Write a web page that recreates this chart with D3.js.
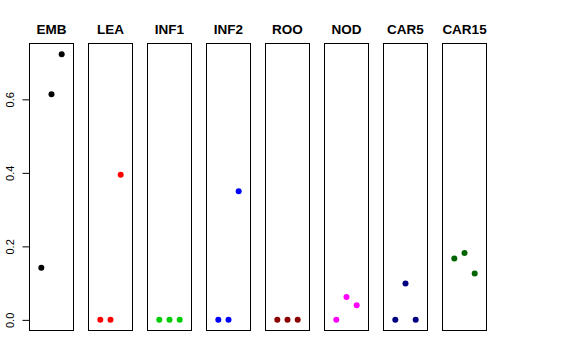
<!DOCTYPE html>
<html>
<head>
<meta charset="utf-8">
<script src="https://cdn.jsdelivr.net/npm/d3@7"></script>
<style>
  body { margin: 0; background: #fff; }
  svg { display: block; }
</style>
</head>
<body>
<svg id="chart" width="576" height="360"></svg>
<script>
// datos
const categorias = ['EMB', 'LEA', 'INF1', 'INF2', 'ROO', 'NOD', 'CAR5', 'CAR15'];
const colores = ['#000000', '#FF0000', '#00CD00', '#0000FF', '#8B0000', '#FF00FF', '#000080', '#006400'];
const emb = [0.142, 0.614, 0.723];
const lea = [0, 0, 0.395];
const inf1 = [0, 0, 0];
const inf2 = [0, 0, 0.350];
const roo = [0, 0, 0];
const nod = [0, 0.062, 0.040];
const car5 = [0, 0.099, 0];
const car15 = [0.167, 0.182, 0.126];
const series = [emb, lea, inf1, inf2, roo, nod, car5, car15];
const yTicks = [0, 0.2, 0.4, 0.6];

const svg = d3.select('#chart');
const plotTop = 43.5, plotBottom = 330.5;

// posicion de cada panel
const panel = d3.scaleBand()
  .domain(categorias)
  .range([29.5, 486.5])
  .paddingInner(15 / 59)
  .paddingOuter(0);

// eje x dentro del panel: puntos 1..3 con xlim 0..4 (+4%)
const x = d3.scaleLinear().domain([-0.16, 4.16]).range([0, panel.bandwidth()]);

const maxY = d3.max(series, s => d3.max(s));
const pad = maxY * 0.04;
const y = d3.scaleLinear().domain([-pad, maxY + pad]).range([plotBottom, plotTop]);

categorias.forEach((cat, i) => {
  const g = svg.append('g').attr('transform', `translate(${panel(cat)},0)`);

  g.append('rect')
    .attr('x', 0)
    .attr('y', plotTop)
    .attr('width', panel.bandwidth())
    .attr('height', plotBottom - plotTop)
    .attr('fill', 'none')
    .attr('stroke', '#000')
    .attr('stroke-width', 1);

  g.append('text')
    .attr('x', panel.bandwidth() / 2)
    .attr('y', 34)
    .attr('text-anchor', 'middle')
    .style('font-family', 'Liberation Sans, Arial, sans-serif')
    .style('font-weight', 'bold')
    .style('font-size', '13.5px')
    .text(cat);

  g.selectAll('circle')
    .data(series[i])
    .enter()
    .append('circle')
    .attr('cx', (d, j) => x(j + 1))
    .attr('cy', d => y(d))
    .attr('r', 3)
    .attr('fill', colores[i]);
});

// eje y compartido a la izquierda
const yAxis = d3.axisLeft(y)
  .tickValues(yTicks)
  .tickFormat(d3.format('.1f'))
  .tickSize(7)
  .tickPadding(4);

const ax = svg.append('g')
  .attr('transform', `translate(${panel(categorias[0])},0)`)
  .call(yAxis);

ax.select('.domain').remove();
ax.selectAll('.tick line').attr('stroke', '#000');
ax.selectAll('.tick text')
  .attr('transform', 'rotate(-90)')
  .attr('x', 0)
  .attr('y', -16)
  .attr('dy', 0)
  .attr('text-anchor', 'middle')
  .style('font-family', 'Liberation Sans, Arial, sans-serif')
  .style('font-size', '11px')
  .attr('fill', '#000');
</script>
</body>
</html>
